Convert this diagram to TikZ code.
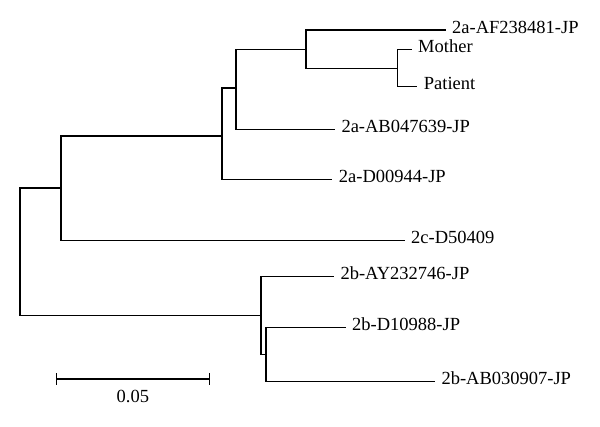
\documentclass[tikz,border=0pt]{standalone}
\usepackage{fontspec}
\setmainfont{Liberation Serif}
\usetikzlibrary{arrows.meta}
\begin{document}
\begin{tikzpicture}[x=1pt,y=-1pt]

      \useasboundingbox (0,0) rectangle (600,427);

      % inner nodes of the tree
      \begin{scope}[every node/.style={coordinate}]
        \node (r) at (20,252)    {};
        \node (a) at (61,188)    {};
        \node (c) at (222,136)   {};
        \node (d) at (236,88)    {};
        \node (e) at (306,49.3)  {};
        \node (f) at (397.3,68.3) {};
        \node (b) at (261,315.5) {};
        \node (g) at (266,354.3) {};
      \end{scope}

      % leaves
      \begin{scope}[every node/.style={anchor=west, inner xsep=7pt, inner ysep=0pt,
          text height=0.66em, text depth=0pt, font=\fontsize{18.5}{20}\selectfont}]
        \node (af) at (445,30)    {2a-AF238481-JP};
        \node (mo) at (411,49.3)  {Mother};
        \node (pa) at (416.7,86.7) {Patient};
        \node (ab) at (334.3,129.3) {2a-AB047639-JP};
        \node (dz) at (331.7,179.5) {2a-D00944-JP};
        \node (dc) at (404,240.7) {2c-D50409};
        \node (ay) at (333.3,276.7) {2b-AY232746-JP};
        \node (dt) at (345,327.7) {2b-D10988-JP};
        \node (ao) at (434.3,381.7) {2b-AB030907-JP};
      \end{scope}

      \begin{scope}[every edge/.style={draw, line width=1.4pt, line cap=rect,
          to path={|- (\tikztotarget)}}]
        \path (r) edge (a);
        \path (r) edge (b);
        \path (a) edge (c);
        \path (a) edge (dc.west);
        \path (c) edge (d);
        \path (c) edge (dz.west);
        \path (d) edge (e);
        \path (d) edge (ab.west);
        \path (e) edge (af.west);
        \path (e) edge (f);
        \path (f) edge (mo.west);
        \path (f) edge (pa.west);
        \path (b) edge (ay.west);
        \path (b) edge (g);
        \path (g) edge (dt.west);
        \path (g) edge (ao.west);
      \end{scope}

      % scale bar
      \node[coordinate] (s1) at (55.7,379) {};
      \node[coordinate] (s2) at (210,379)  {};
      \draw[line width=1.4pt, {Bar[width=12pt]}-{Bar[width=12pt]}] (s1) -- (s2)
        node[midway, below=7pt, font=\fontsize{18.5}{20}\selectfont] (sl) {0.05};

    \end{tikzpicture}
\end{document}
